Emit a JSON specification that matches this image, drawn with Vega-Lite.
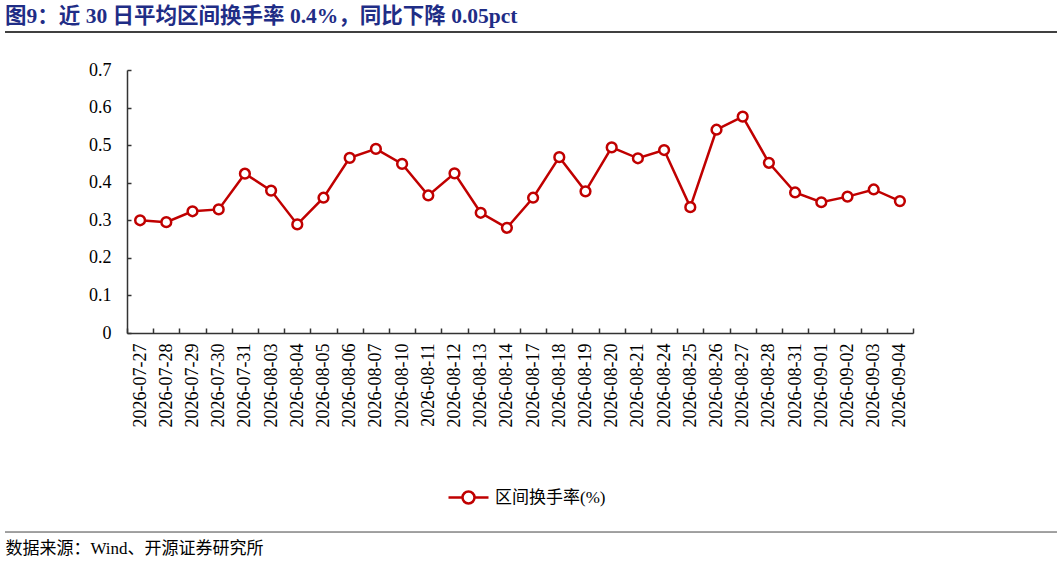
{
  "$schema": "https://vega.github.io/schema/vega-lite/v6.json",
  "width": 786,
  "height": 263,
  "autosize": {"type": "none"},
  "padding": {"left": 127, "top": 70, "right": 144, "bottom": 229},
  "title": {
    "text": "图9：近 30 日平均区间换手率 0.4%，同比下降 0.05pct",
    "anchor": "start",
    "frame": "group",
    "dx": -122,
    "offset": 4,
    "font": "Liberation Serif, Noto Sans CJK SC",
    "fontSize": 21.5,
    "fontWeight": "bold",
    "color": "#1f2d86"
  },
  "config": {
    "view": {"stroke": null},
    "font": "Liberation Serif, Noto Sans CJK SC"
  },
  "data": {
    "values": [
      {"date": "2026-07-27", "rate": 0.300},
      {"date": "2026-07-28", "rate": 0.295},
      {"date": "2026-07-29", "rate": 0.324},
      {"date": "2026-07-30", "rate": 0.329},
      {"date": "2026-07-31", "rate": 0.424},
      {"date": "2026-08-03", "rate": 0.379},
      {"date": "2026-08-04", "rate": 0.289},
      {"date": "2026-08-05", "rate": 0.360},
      {"date": "2026-08-06", "rate": 0.466},
      {"date": "2026-08-07", "rate": 0.490},
      {"date": "2026-08-10", "rate": 0.450},
      {"date": "2026-08-11", "rate": 0.366},
      {"date": "2026-08-12", "rate": 0.425},
      {"date": "2026-08-13", "rate": 0.320},
      {"date": "2026-08-14", "rate": 0.280},
      {"date": "2026-08-17", "rate": 0.360},
      {"date": "2026-08-18", "rate": 0.468},
      {"date": "2026-08-19", "rate": 0.377},
      {"date": "2026-08-20", "rate": 0.494},
      {"date": "2026-08-21", "rate": 0.465},
      {"date": "2026-08-24", "rate": 0.487},
      {"date": "2026-08-25", "rate": 0.335},
      {"date": "2026-08-26", "rate": 0.541},
      {"date": "2026-08-27", "rate": 0.576},
      {"date": "2026-08-28", "rate": 0.453},
      {"date": "2026-08-31", "rate": 0.374},
      {"date": "2026-09-01", "rate": 0.348},
      {"date": "2026-09-02", "rate": 0.363},
      {"date": "2026-09-03", "rate": 0.382},
      {"date": "2026-09-04", "rate": 0.351}
    ]
  },
  "layer": [
    {
      "mark": {
        "type": "line",
        "strokeWidth": 2.5,
        "point": {"filled": false, "fill": "white", "size": 95, "strokeWidth": 2.5}
      },
      "encoding": {
        "x": {
          "field": "date",
          "type": "ordinal",
          "sort": null,
          "bandPosition": 0.5,
          "scale": {"type": "band", "paddingInner": 0, "paddingOuter": 0},
          "axis": {
            "title": "数据来源：Wind、开源证券研究所",
            "titleX": -122,
            "titleY": 215,
            "titleAlign": "left",
            "titleBaseline": "middle",
            "titleAngle": 0,
            "titleFont": "Liberation Serif, Noto Sans CJK SC",
            "titleFontSize": 17,
            "titleFontWeight": "normal",
            "titleColor": "#000",
            "labelAngle": -90,
            "labelFont": "Liberation Serif",
            "labelFontSize": 18,
            "labelColor": "#000",
            "labelPadding": 15,
            "labelOverlap": false,
            "tickBand": "extent",
            "tickSize": -5,
            "tickColor": "#333",
            "tickWidth": 1.5,
            "domainColor": "#333",
            "domainWidth": 1.5,
            "grid": false
          }
        },
        "y": {
          "field": "rate",
          "type": "quantitative",
          "scale": {"domain": [0, 0.7], "nice": false},
          "axis": {
            "title": null,
            "values": [0, 0.1, 0.2, 0.3, 0.4, 0.5, 0.6, 0.7],
            "format": ".1~f",
            "labelFont": "Liberation Serif",
            "labelFontSize": 18,
            "labelColor": "#000",
            "labelPadding": 20,
            "labelOverlap": false,
            "labelFlush": false,
            "tickSize": -4,
            "tickColor": "#333",
            "tickWidth": 1.5,
            "domainColor": "#333",
            "domainWidth": 1.5,
            "grid": false
          }
        },
        "color": {
          "datum": "区间换手率(%)",
          "scale": {"range": ["#c00000"]},
          "legend": {
            "title": null,
            "orient": "none",
            "legendX": 320,
            "legendY": 406,
            "padding": 0,
            "symbolType": "M-1,0H-0.3A0.3,0.3,0,1,1,0.3,0A0.3,0.3,0,1,1,-0.3,0M0.3,0H1",
            "symbolSize": 1600,
            "symbolStrokeWidth": 2.5,
            "symbolFillColor": "white",
            "labelFont": "Liberation Serif, Noto Sans CJK SC",
            "labelFontSize": 17,
            "labelColor": "#000",
            "labelOffset": 5
          }
        }
      }
    },
    {
      "data": {"values": [{"edge": "top", "x0": -0.1552, "x1": 1.1832, "y0": 0.8011}]},
      "mark": {"type": "rule", "color": "#000", "strokeWidth": 1.5},
      "encoding": {
        "x": {"field": "x0", "type": "quantitative", "scale": {"domain": [0, 1], "nice": false, "zero": false}, "axis": null},
        "x2": {"field": "x1"},
        "y": {"field": "y0", "type": "quantitative", "scale": {"domain": [0, 0.7], "nice": false}, "axis": null}
      }
    },
    {
      "data": {"values": [{"edge": "bottom", "x0": -0.1552, "x1": 1.1832, "y0": -0.5297}]},
      "mark": {"type": "rule", "color": "#444", "strokeWidth": 1},
      "encoding": {
        "x": {"field": "x0", "type": "quantitative", "scale": {"domain": [0, 1], "nice": false, "zero": false}, "axis": null},
        "x2": {"field": "x1"},
        "y": {"field": "y0", "type": "quantitative", "scale": {"domain": [0, 0.7], "nice": false}, "axis": null}
      }
    }
  ],
  "resolve": {
    "scale": {"x": "independent", "y": "independent"},
    "axis": {"x": "independent", "y": "independent"}
  }
}
